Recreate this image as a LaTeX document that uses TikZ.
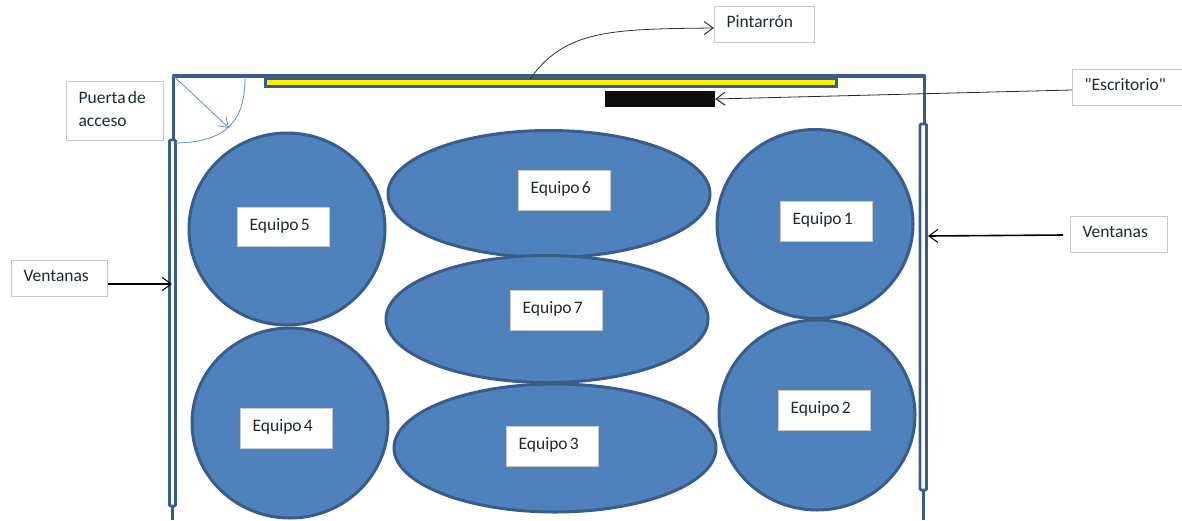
\documentclass[tikz,border=0pt]{standalone}
\usepackage{fontspec}
\setmainfont{Carlito}
\newfontfamily\rawfont{Carlito}
\usetikzlibrary{arrows.meta,shapes.geometric}
\definecolor{fillblue}{HTML}{4F81BD}
\definecolor{edgeblue}{HTML}{385D8A}
\definecolor{boxgray}{HTML}{C8C8C8}
\definecolor{doorblue}{HTML}{5F8FC6}
\definecolor{inkdark}{HTML}{1F2A33}
\tikzset{
  x=1pt,y=-1pt,
  table/.style={ellipse,draw=edgeblue,line width=3pt,fill=fillblue,inner sep=0pt},
  tag/.style={draw=boxgray,line width=1.2pt,fill=white,font=\fontsize{17.5}{23}\selectfont,text=inkdark,
    execute at begin node={\spaceskip=2.2pt\relax},
    align=left,inner sep=0pt,minimum height=#1,text depth=6pt,text height=12pt},
  tag/.default=38pt,
  wall/.style={draw=edgeblue,line width=3.4pt},
  pane/.style={draw=edgeblue,line width=2.6pt,fill=white,rounded corners=1pt},
  pointer/.style={draw=#1,-{Straight Barb[length=9pt,width=13pt,line width=1pt]}},
}
\newcommand{\tagbox}[5]{\node[tag=#5,text width=#4-24pt,minimum width=#4,anchor=north west] (#1) at (#2) {#3};}
\begin{document}
\begin{tikzpicture}
\useasboundingbox (0,0) rectangle (1182,520);
% walls
\coordinate (tl) at (173.5,76);
\coordinate (tr) at (924.5,76);
\draw[wall,line join=round] (173.5,140) -- (tl) -- (tr) -- (924.5,124);
\draw[wall,line width=2.6pt] (172.5,506) -- (172.5,520);
\draw[wall,line width=2.6pt] (923.5,490) -- (923.5,520);
% windows
\path[pane] (169.5,140) rectangle (175.5,506);
\path[pane] (920,124) rectangle (926.5,490);
% whiteboard and desk
\path[fill=edgeblue] (264,75) rectangle (838,87.5);
\path[fill=yellow] (267,80) rectangle (835,84.5);
\coordinate (boardpt) at (530,79);
\node[fill=black!95,minimum width=110pt,minimum height=16pt,inner sep=0pt] (desk) at (660,99) {};
% door
\coordinate (doorend) at (229,128);
\draw[doorblue,line width=.8pt,-{Straight Barb[length=9pt,width=12pt,line width=.8pt]}] (tl) -- (doorend);
\draw[doorblue,line width=.8pt] (245,77) .. controls (245,118) and (230,142) .. (176,143);
% tables
\node[table,minimum width=196pt,minimum height=192pt] (e5) at (287,229) {};
\node[table,minimum width=196pt,minimum height=190pt] (e4) at (290,423) {};
\node[table,minimum width=196pt,minimum height=189pt] (e1) at (815,224) {};
\node[table,minimum width=196pt,minimum height=190pt] (e2) at (817,415) {};
\node[table,minimum width=322pt,minimum height=127pt] (e6) at (549,194) {};
\node[table,minimum width=322pt,minimum height=127pt] (e7) at (547,319) {};
\node[table,minimum width=322pt,minimum height=128pt] (e3) at (555,448) {};
% labels on tables
\tagbox{l5}{237,207}{Equipo 5}{92pt}{39pt}
\tagbox{l4}{240,408}{Equipo 4}{92pt}{40pt}
\tagbox{l6}{518,170}{Equipo 6}{92pt}{40pt}
\tagbox{l7}{510,290}{Equipo 7}{92pt}{40pt}
\tagbox{l3}{506,426}{Equipo 3}{92pt}{40pt}
\tagbox{l1}{780,201}{Equipo 1}{92pt}{40pt}
\tagbox{l2}{778,390}{Equipo 2}{92pt}{40pt}
% callouts
\node[tag=59pt,text width=73pt,minimum width=97pt,anchor=north west,text depth=28pt] (puerta) at (66,81) {Puerta de\\acceso};
\tagbox{pin}{714,6}{Pintarrón}{100pt}{36pt}
\tagbox{esc}{1072,69}{{\rawfont "Escritorio"}}{110pt}{36pt}
\tagbox{venR}{1070,216}{Ventanas}{97pt}{36pt}
\tagbox{venL}{11,260}{Ventanas}{96pt}{36pt}
% connectors
\draw[pointer=black!80,line width=.8pt] (boardpt) .. controls (565,30) and (610,29) .. (pin.west |- 0,28);
\draw[pointer=black!85,line width=.8pt] (esc.west |- 0,90) -- (desk.east);
\draw[pointer=black,line width=1.6pt] (1063,235) -- (928,236);
\draw[pointer=black,line width=1.6pt] (venL.east |- 0,284) -- (172,284);
\end{tikzpicture}
\end{document}
